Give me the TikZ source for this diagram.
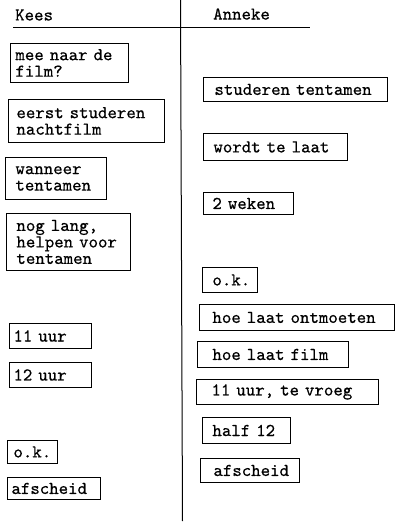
\documentclass[tikz,border=0pt]{standalone}
\usepackage{fontspec}
\newfontfamily\twfont{lmmono10-regular.otf}[FakeBold=0.5]
\newcommand\twf{\twfont\fontsize{18}{16.5}\selectfont}
\AtBeginDocument{{\twf\fontdimen2\font=9.45pt\relax\fontdimen3\font=0pt\relax\fontdimen4\font=0pt\relax}}
\newcommand\bx[7]{\node[box, minimum height=#5pt, text width=#4pt, execute at begin node={\leftskip=#6pt\relax}] (#1) at (#2,#3) {#7};}
\begin{document}
\begin{tikzpicture}[x=1pt,y=-1pt,
  tw/.style={font=\twf},
  box/.style={tw, draw, anchor=north west, inner xsep=0pt, inner ysep=0pt, align=left, line width=0.9pt},
  rule/.style={line width=1pt}]
\fill[white] (0,0) rectangle (400,523);
\useasboundingbox (0,0) rectangle (400,523);
% headers
\node[tw, anchor=west, inner sep=0pt] (kees) at (15,15) {Kees};
\node[tw, anchor=west, inner sep=0pt] (anneke) at (213,14) {Anneke};
\coordinate (vtop) at (180.5,0);
\coordinate (vbot) at (182.5,521);
\coordinate (hl) at (13,27);
\coordinate (hr) at (310,27);
\draw[rule] (vtop) -- (vbot);
\draw[rule] (hl) -- (hr);
% Kees
\bx{k1}{10}{43}{118}{39}{5}{mee naar de\\film?}
\bx{k2}{8}{99}{156}{43}{8}{eerst studeren\\nachtfilm}
\bx{k3}{5}{157}{101}{42}{10}{wanneer\\tentamen}
\bx{k4}{6}{213}{124}{57}{10}{nog lang,\\helpen voor\\tentamen}
\bx{k5}{9}{323}{82}{25}{4}{11 uur}
\bx{k6}{9}{362}{82}{25}{4}{12 uur}
\bx{k7}{7}{440}{50}{23}{6}{o.k.}
\bx{k8}{7}{477}{93}{22}{4}{afscheid}
% Anneke
\bx{a1}{203}{77}{184}{24}{11}{studeren tentamen}
\bx{a2}{203}{133}{144}{27}{10}{wordt te laat}
\bx{a3}{203}{192}{90}{22}{9}{2 weken}
\bx{a4}{202}{267}{55}{25}{10}{o.k.}
\bx{a5}{199}{304}{195}{26}{13}{hoe laat ontmoeten}
\bx{a6}{197}{341}{151}{26}{15}{hoe laat film}
\bx{a7}{196}{379}{182}{25}{15}{11 uur, te vroeg}
\bx{a8}{202}{417}{88}{26}{10}{half 12}
\bx{a9}{200}{458}{99}{24}{13}{afscheid}
\end{tikzpicture}
\end{document}
